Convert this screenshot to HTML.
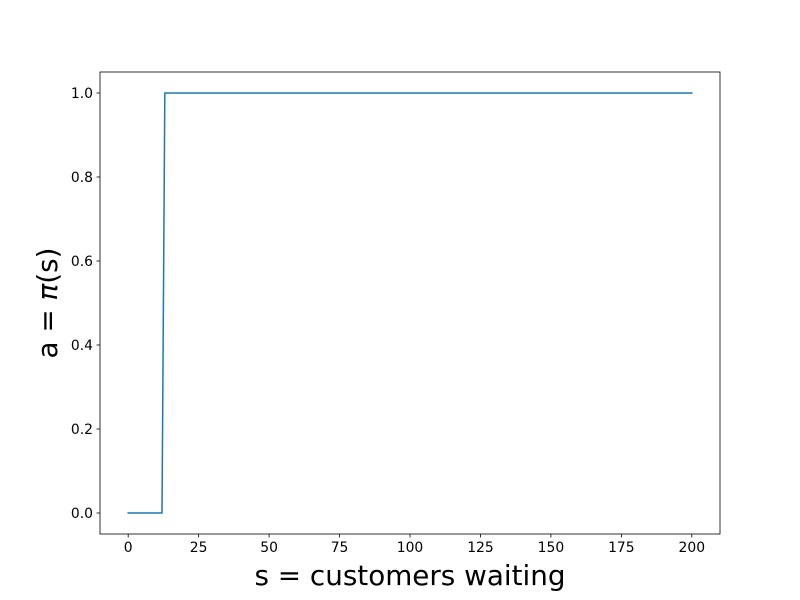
<!DOCTYPE html>
<html>
<head>
<meta charset="utf-8">
<style>
  html, body { margin: 0; padding: 0; background: #fff; }
  svg { display: block; font-family: "DejaVu Sans", "Liberation Sans", sans-serif; }
</style>
</head>
<body>
<svg id="chart" width="800" height="600" viewBox="0 0 800 600" xmlns="http://www.w3.org/2000/svg">
  <rect x="0" y="0" width="800" height="600" fill="#fff"/>
  <g id="plot"></g>
</svg>
<script>
const xValues = [0, 12, 13, 200];
const yValues = [0, 0, 1, 1];
const xTicks = [0, 25, 50, 75, 100, 125, 150, 175, 200];
const yTicks = [0.0, 0.2, 0.4, 0.6, 0.8, 1.0];
const yTickLabels = ["0.0", "0.2", "0.4", "0.6", "0.8", "1.0"];

const NS = "http://www.w3.org/2000/svg";
const L = 100, R = 720, T = 72, B = 534;
const xMin = -10, xMax = 210, yMin = -0.05, yMax = 1.05;
const xs = v => L + (v - xMin) / (xMax - xMin) * (R - L);
const ys = v => B - (v - yMin) / (yMax - yMin) * (B - T);
const g = document.getElementById('plot');
function mk(tag, attrs) {
  const e = document.createElementNS(NS, tag);
  for (const k in attrs) e.setAttribute(k, attrs[k]);
  g.appendChild(e);
  return e;
}

const pts = xValues.map((v, i) => xs(v).toFixed(2) + ',' + ys(yValues[i]).toFixed(2)).join(' ');
const line = mk('polyline', {points: pts, fill: 'none', stroke: '#1f77b4', 'stroke-width': 1.5, 'stroke-linejoin': 'round', 'stroke-linecap': 'square'});



const frame = mk('rect', {x: L, y: T, width: R - L, height: B - T, fill: 'none', stroke: '#000', 'stroke-width': 0.8});



xTicks.forEach(v => {
  const x = xs(v);
  const t = mk('line', {x1: x, y1: B, x2: x, y2: B + 3.5, stroke: '#000', 'stroke-width': 0.8});
  
  
  const lb = mk('text', {x: x, y: B + 18, 'text-anchor': 'middle', 'font-size': 13.9, fill: '#000'});
  lb.textContent = String(v);
  
  
});

yTicks.forEach((v, i) => {
  const y = ys(v);
  const t = mk('line', {x1: L - 3.5, y1: y, x2: L, y2: y, stroke: '#000', 'stroke-width': 0.8});
  
  
  const lb = mk('text', {x: L - 7, y: y + 5, 'text-anchor': 'end', 'font-size': 13.9, fill: '#000'});
  lb.textContent = yTickLabels[i];
  
  
});

const xt = mk('text', {x: (L + R) / 2, y: 585, 'text-anchor': 'middle', 'font-size': 27.8, fill: '#000'});
xt.textContent = 's = customers waiting';



const yt = mk('text', {x: 0, y: 0, 'text-anchor': 'middle', 'font-size': 27.8, fill: '#000', transform: 'translate(57,' + ((T + B) / 2) + ') rotate(-90)'});


const s1 = document.createElementNS(NS, 'tspan'); s1.textContent = 'a = ';
const s2 = document.createElementNS(NS, 'tspan'); s2.textContent = 'π'; s2.setAttribute('font-style', 'italic');
const s3 = document.createElementNS(NS, 'tspan'); s3.textContent = '(s)';
yt.appendChild(s1); yt.appendChild(s2); yt.appendChild(s3);
</script>
</body>
</html>
